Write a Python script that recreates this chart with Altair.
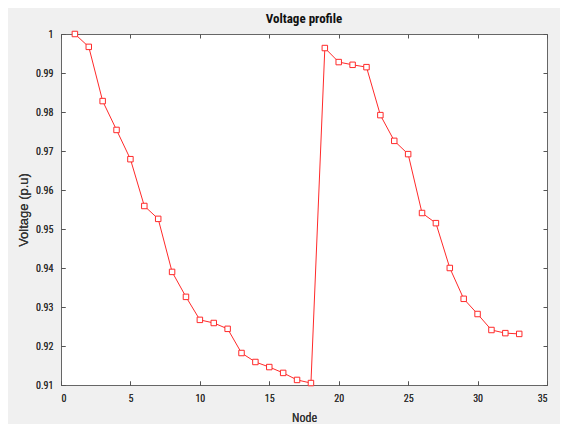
import altair as alt
import pandas as pd

nodes = list(range(1, 34))
voltage = [1.0000, 0.9967, 0.9828, 0.9754, 0.9679, 0.9559, 0.9526, 0.9390, 0.9326, 0.9267,
           0.9259, 0.9244, 0.9182, 0.9159, 0.9146, 0.9131, 0.9113, 0.9105,
           0.9964, 0.9928, 0.9921, 0.9915, 0.9792, 0.9726, 0.9692, 0.9541, 0.9515,
           0.9400, 0.9321, 0.9282, 0.9241, 0.9233, 0.9231]
x_ticks = [0, 5, 10, 15, 20, 25, 30, 35]
y_ticks = [0.91, 0.92, 0.93, 0.94, 0.95, 0.96, 0.97, 0.98, 0.99, 1.0]

df = pd.DataFrame({"node": nodes, "voltage": voltage})

FONT = "Liberation Sans Narrow, Roboto Condensed, Liberation Sans, Arial, sans-serif"
WIDE = "Liberation Sans, Arial, sans-serif"
RED = "#ff2a2a"

xscale = alt.Scale(domain=[0, 35], nice=False, zero=False)
yscale = alt.Scale(domain=[0.91, 1.0], nice=False, zero=False)

common_axis = dict(offset=-4, tickSize=4, domain=False, grid=False,
                   tickColor="#555", labelColor="#333", labelFont=FONT,
                   labelFontSize=10)

x_main = alt.X("node:Q", scale=xscale,
               axis=alt.Axis(values=x_ticks, orient="bottom", labelPadding=8,
                             title="Node", titleFont=FONT, titleFontSize=12,
                             titleFontWeight="normal", titleColor="#333",
                             titlePadding=9, **common_axis))
y_main = alt.Y("voltage:Q", scale=yscale,
               axis=alt.Axis(values=y_ticks, orient="left", labelPadding=8,
                             format=".2~f", title="Voltage (p.u)", titleFont=WIDE,
                             titleFontSize=13, titleFontWeight="normal",
                             titleColor="#333", titlePadding=5, **common_axis))

line = alt.Chart(df).mark_line(color=RED, strokeWidth=1).encode(x=x_main, y=y_main)
pts = alt.Chart(df).mark_point(shape="square", size=30, filled=True, fill="white",
                               stroke=RED, strokeWidth=1, opacity=1).encode(x=x_main, y=y_main)

x_top = alt.X("node:Q", scale=xscale,
              axis=alt.Axis(values=x_ticks, orient="top", labels=False, title=None,
                            **common_axis))
y_right = alt.Y("voltage:Q", scale=yscale,
                axis=alt.Axis(values=y_ticks, orient="right", labels=False, title=None,
                              **common_axis))
frame = alt.Chart(df).mark_point(opacity=0).encode(x=x_top, y=y_right)

chart = alt.layer(line, pts, frame).resolve_axis(
    x="independent", y="independent"
).properties(
    width=486, height=351,
    title=alt.TitleParams("Voltage profile", font=FONT, fontSize=13,
                          fontWeight="bold", color="#111", offset=3),
    autosize=alt.AutoSizeParams(type="none"),
    padding={"left": 53, "top": 26, "right": 13, "bottom": 39},
    background="#f0f0f0",
).configure_view(stroke="#666", strokeWidth=1, fill="white")

chart.save("out.html", embed_options={"renderer": "svg", "actions": False})
